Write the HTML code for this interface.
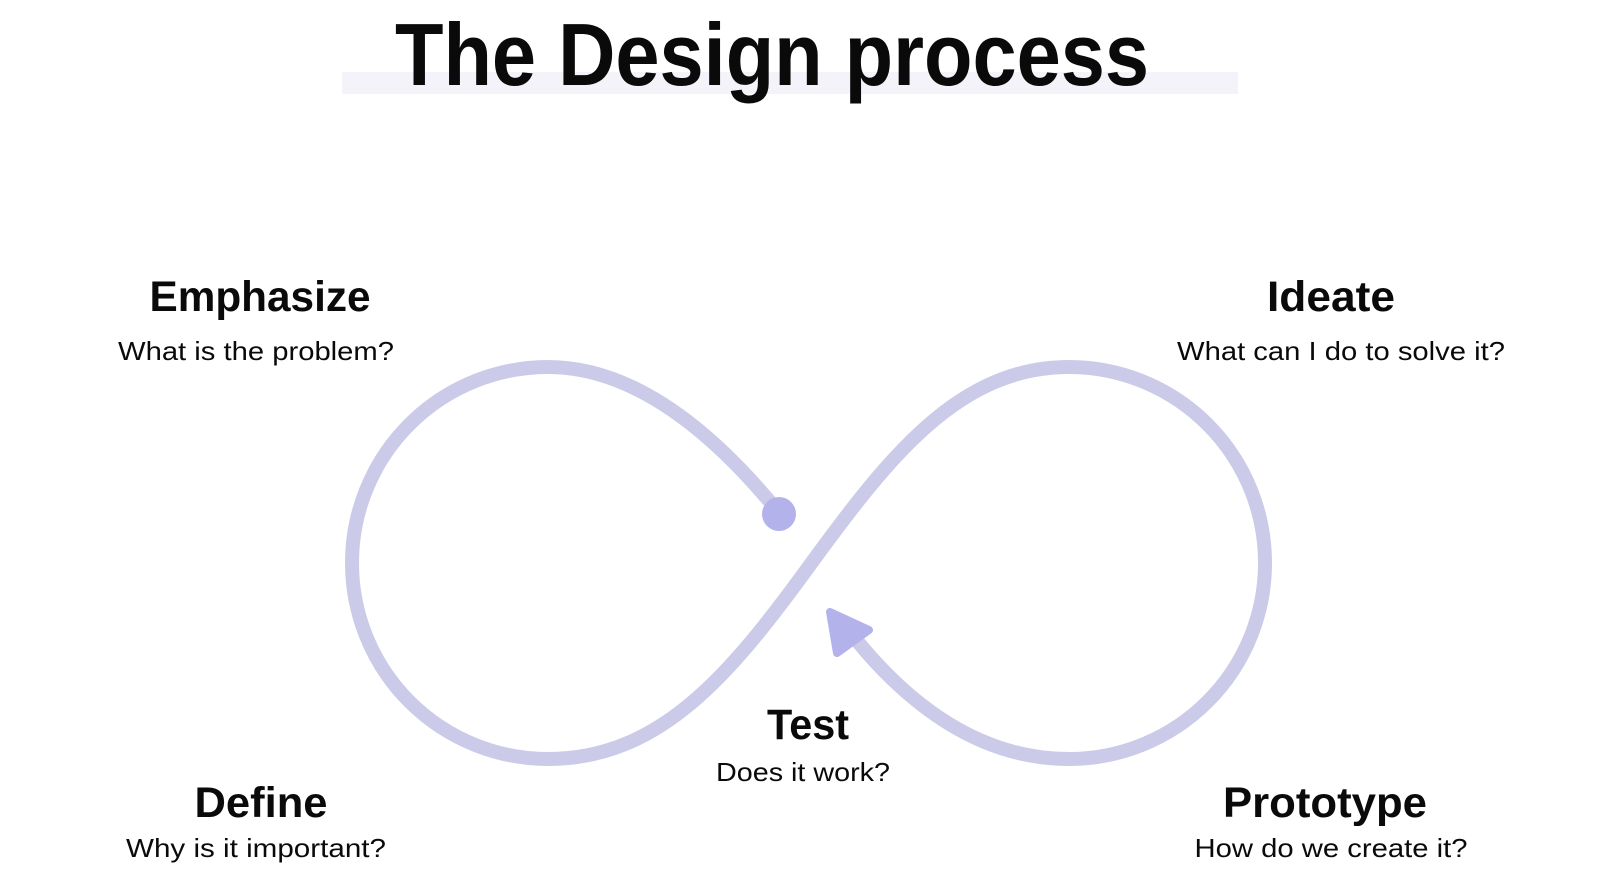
<!DOCTYPE html>
<html><head><meta charset="utf-8"><style>
html,body{margin:0;padding:0;background:#fff;}
svg{display:block;}
text{font-family:"Liberation Sans",sans-serif;fill:#0a0a0a;}
.h{font-size:43px;font-weight:bold;}
.s{font-size:26px;}
</style></head><body>
<svg width="1600" height="895" viewBox="0 0 1600 895">
<rect x="342" y="72" width="896" height="22" fill="#f3f3f9"/>
<text x="395" y="85" font-size="88" font-weight="bold" textLength="754" lengthAdjust="spacingAndGlyphs">The Design process</text>

<path d="M780,514 C720,440 640,367 548,367 A196,196 0 0 0 548,759 C660,759 730,675 810,565 C890,455 960,367 1069,367 A196,196 0 0 1 1069,759 C980,759 910,705 858,642" fill="none" stroke="#cbcbe9" stroke-width="14" stroke-linecap="round"/>
<circle cx="779" cy="514" r="17" fill="#b4b2eb"/>
<polygon points="830,612 869,630 837,653" fill="#b4b2eb" stroke="#b4b2eb" stroke-width="8" stroke-linejoin="round"/>

<text class="h" x="260" y="311" text-anchor="middle" textLength="221" lengthAdjust="spacingAndGlyphs">Emphasize</text>
<text class="s" x="256" y="360" text-anchor="middle" textLength="276" lengthAdjust="spacingAndGlyphs">What is the problem?</text>
<text class="h" x="1331" y="311" text-anchor="middle" textLength="128" lengthAdjust="spacingAndGlyphs">Ideate</text>
<text class="s" x="1341" y="360" text-anchor="middle" textLength="328" lengthAdjust="spacingAndGlyphs">What can I do to solve it?</text>
<text class="h" x="261" y="817" text-anchor="middle" textLength="133" lengthAdjust="spacingAndGlyphs">Define</text>
<text class="s" x="256" y="857" text-anchor="middle" textLength="260" lengthAdjust="spacingAndGlyphs">Why is it important?</text>
<text class="h" x="1325" y="817" text-anchor="middle" textLength="204" lengthAdjust="spacingAndGlyphs">Prototype</text>
<text class="s" x="1331" y="857" text-anchor="middle" textLength="273" lengthAdjust="spacingAndGlyphs">How do we create it?</text>
<text class="h" x="808" y="739" text-anchor="middle" textLength="82" lengthAdjust="spacingAndGlyphs">Test</text>
<text class="s" x="803" y="781" text-anchor="middle" textLength="174" lengthAdjust="spacingAndGlyphs">Does it work?</text>
</svg>
</body></html>
